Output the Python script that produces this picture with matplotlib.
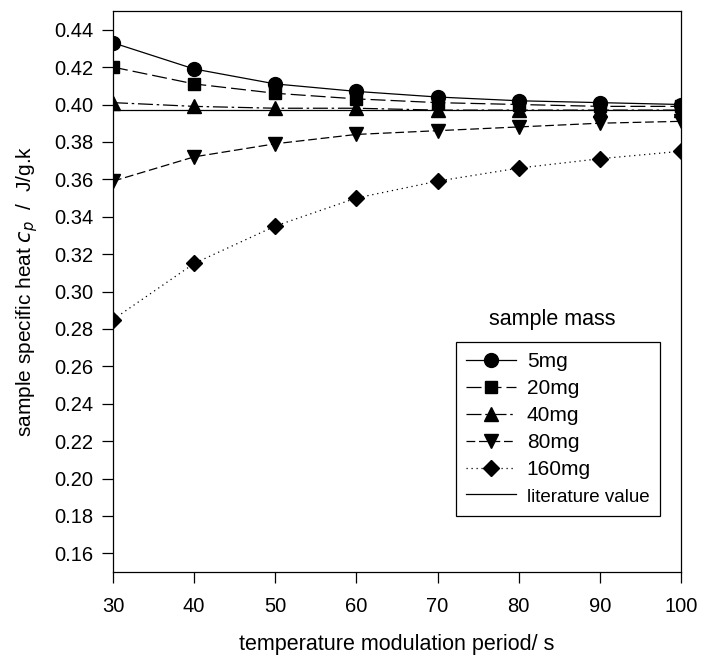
import matplotlib
matplotlib.use("Agg")
import matplotlib.pyplot as plt

plt.rcParams['font.family'] = ['Liberation Sans', 'DejaVu Sans']

# modulation period / s
period = [30, 40, 50, 60, 70, 80, 90, 100]

# specific heat per sample mass
cp_5mg = [0.433, 0.419, 0.411, 0.407, 0.404, 0.402, 0.401, 0.400]
cp_20mg = [0.420, 0.411, 0.406, 0.403, 0.401, 0.400, 0.399, 0.399]
cp_40mg = [0.401, 0.399, 0.398, 0.398, 0.397, 0.397, 0.397, 0.397]
cp_80mg = [0.359, 0.372, 0.379, 0.384, 0.386, 0.388, 0.390, 0.391]
cp_160mg = [0.285, 0.315, 0.335, 0.350, 0.359, 0.366, 0.371, 0.375]
literature = 0.397

y_ticks = [0.16, 0.18, 0.20, 0.22, 0.24, 0.26, 0.28, 0.30, 0.32, 0.34, 0.36, 0.38, 0.40, 0.42, 0.44]

fig = plt.figure(figsize=(7.02, 6.59), dpi=100)
ax = fig.add_axes([113 / 702, 1 - 572 / 659, (681 - 113) / 702, (572 - 11) / 659])

lw = 0.9
ax.plot(period, cp_5mg, color='black', lw=lw, ls='-', marker='o', ms=10, label='5mg')
ax.plot(period, cp_20mg, color='black', lw=lw, ls=(0, (12, 4)), marker='s', ms=8.5, label='20mg')
ax.plot(period, cp_40mg, color='black', lw=lw, ls=(0, (12, 3, 2, 3)), marker='^', ms=9.5, label='40mg')
ax.plot(period, cp_80mg, color='black', lw=lw, ls=(0, (7, 3)), marker='v', ms=9.5, label='80mg')
ax.plot(period, cp_160mg, color='black', lw=lw, ls=(0, (1, 3)), marker='D', ms=8.5, label='160mg')
ax.plot([period[0], period[-1]], [literature, literature], color='black', lw=0.9, ls='-',
        label='literature value')

ax.set_xlim(30, 100)
ax.set_ylim(0.15, 0.45)
ax.set_xticks(period)
ax.set_yticks(y_ticks)
ax.set_yticklabels(['%.2f' % v for v in y_ticks])
ax.tick_params(direction='out', length=8, width=0.9, labelsize=14.5, top=False, right=False)
ax.tick_params(axis='x', pad=10)
ax.tick_params(axis='y', pad=6)
for s in ax.spines.values():
    s.set_linewidth(0.9)

ax.set_xlabel('temperature modulation period/ s', fontsize=15.5, labelpad=13)
ax.set_ylabel('sample specific heat $c_p$  /  J/g.k', fontsize=15, labelpad=10)

leg = ax.legend(loc='upper left', bbox_to_anchor=(456 / 702, 1 - 342 / 659), bbox_transform=fig.transFigure,
                fontsize=15, frameon=True, fancybox=False, edgecolor='black', framealpha=1,
                handlelength=2.4, handletextpad=0.5, labelspacing=0.38, borderpad=0.5,
                borderaxespad=0)
leg.get_frame().set_linewidth(0.9)
for t in leg.get_texts():
    if t.get_text() == 'literature value':
        t.set_fontsize(13.5)

fig.text(552 / 702, 1 - 319 / 659, 'sample mass', fontsize=15.5, ha='center', va='center')

fig.savefig('out.png', dpi=100)
